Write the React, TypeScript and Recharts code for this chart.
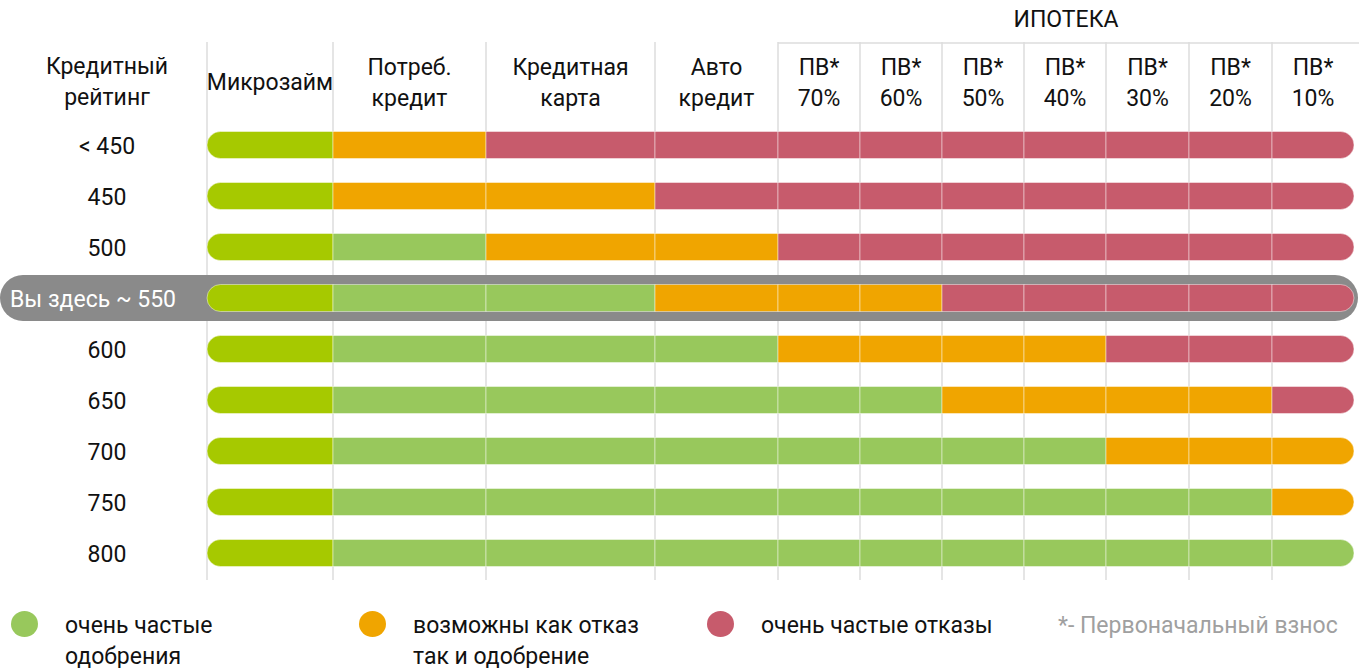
import React from 'react';
import { BarChart, Bar, XAxis, YAxis, CartesianGrid, Cell } from 'recharts';

const ratings = ['< 450', '450', '500', '550', '600', '650', '700', '750', '800'];
const highlightRating = '550';
const highlightLabel = 'Вы здесь ~ 550';

const columnLabels: string[][] = [
  ['Микрозайм'],
  ['Потреб.', 'кредит'],
  ['Кредитная', 'карта'],
  ['Авто', 'кредит'],
  ['ПВ*', '70%'],
  ['ПВ*', '60%'],
  ['ПВ*', '50%'],
  ['ПВ*', '40%'],
  ['ПВ*', '30%'],
  ['ПВ*', '20%'],
  ['ПВ*', '10%'],
];
// relative column widths
const columnWeights = [126, 153, 169, 123, 82, 82, 82, 82, 83, 83, 82];
const mortgageFrom = 4;

// g - очень частые одобрения, o - возможны как отказ так и одобрение, r - очень частые отказы
const statusRows = [
  'gorrrrrrrrr',
  'goorrrrrrrr',
  'ggoorrrrrrr',
  'gggooorrrrr',
  'ggggoooorrr',
  'ggggggoooor',
  'ggggggggooo',
  'ggggggggggo',
  'ggggggggggg',
];

const legendItems = [
  { status: 'g', lines: ['очень частые', 'одобрения'] },
  { status: 'o', lines: ['возможны как отказ', 'так и одобрение'] },
  { status: 'r', lines: ['очень частые отказы'] },
];
const footnote = '*- Первоначальный взнос';

const COLORS: Record<string, string> = {
  micro: '#a6c900',
  g: '#98c85c',
  o: '#f0a500',
  r: '#c75b6c',
};

const FONT = 'Roboto, "Noto Sans", sans-serif';
const FS = 23;
const W = 1359;
const total = columnWeights.reduce((a, b) => a + b, 0);
const starts = columnWeights.map((_, i) => columnWeights.slice(0, i).reduce((a, b) => a + b, 0));
const centers = columnWeights.map((w, i) => starts[i] + w / 2);
const keys = columnWeights.map((_, i) => `c${i}`);

const data = ratings.map((rating) => {
  const row: Record<string, string | number> = { rating };
  keys.forEach((k, i) => {
    row[k] = columnWeights[i];
  });
  return row;
});

const cellColor = (row: number, col: number) => {
  const s = statusRows[row][col];
  if (s === 'g' && col === 0) return COLORS.micro;
  return COLORS[s];
};

const ColumnTick = (props: any) => {
  const { x, index } = props;
  const lines = columnLabels[index] || [];
  const w = columnWeights[index];
  return (
    <g>
      {index >= mortgageFrom && (
        <line
          x1={x - w / 2}
          x2={index === columnWeights.length - 1 ? x + w / 2 + 5 : x + w / 2}
          y1={43}
          y2={43}
          stroke="#dddddd"
          strokeWidth={1.5}
        />
      )}
      {lines.length === 1 ? (
        <text x={x} y={82} textAnchor="middle" dominantBaseline="central" fontSize={FS} fill="#111" fontFamily={FONT}>
          {lines[0]}
        </text>
      ) : (
        lines.map((l, i) => (
          <text key={i} x={x} y={67 + i * 31} textAnchor="middle" dominantBaseline="central" fontSize={FS} fill="#111" fontFamily={FONT}>
            {l}
          </text>
        ))
      )}
    </g>
  );
};

const RatingTick = (props: any) => {
  const { y, payload } = props;
  if (payload.value === highlightRating) {
    return (
      <text x={10} y={y + 1} textAnchor="start" dominantBaseline="central" fontSize={FS} fill="#fff" fontFamily={FONT}>
        {highlightLabel}
      </text>
    );
  }
  return (
    <text x={107} y={y + 1} textAnchor="middle" dominantBaseline="central" fontSize={FS} fill="#111" fontFamily={FONT}>
      {payload.value}
    </text>
  );
};

const HighlightBackground = (props: any) => {
  const { y, height, index, payload } = props;
  const rating = payload?.rating ?? ratings[index];
  if (rating !== highlightRating) return <g />;
  const cy = y + height / 2;
  return <rect x={0} y={cy - 23} width={W - 1} height={46} rx={23} ry={23} fill="#8a8a8a" />;
};

export default function App() {
  const r = 13.5;
  return (
    <div style={{ position: 'absolute', left: 0, top: 0, width: W, height: 668, background: '#fff', fontFamily: FONT }}>
      <div style={{ position: 'absolute', left: 7, width: 200, top: 51, textAlign: 'center', fontSize: FS, lineHeight: '31px', color: '#111' }}>
        Кредитный
        <br />
        рейтинг
      </div>
      <div style={{ position: 'absolute', left: 966, width: 200, top: 7, textAlign: 'center', fontSize: FS, lineHeight: '26px', color: '#111' }}>
        ИПОТЕКА
      </div>
      <div style={{ position: 'absolute', left: 0, top: 0 }}>
        <BarChart
          width={W}
          height={585}
          data={data}
          layout="vertical"
          margin={{ top: 0, right: 5, bottom: 5, left: 0 }}
          barSize={27}
        >
          <CartesianGrid
            horizontal={false}
            stroke="#dddddd"
            strokeWidth={1.5}
            verticalCoordinatesGenerator={({ offset }: any) =>
              starts.map((s) => offset.left + (s / total) * offset.width)
            }
          />
          <XAxis
            type="number"
            orientation="top"
            domain={[0, total]}
            ticks={centers}
            interval={0}
            height={42}
            axisLine={false}
            tickLine={false}
            tick={<ColumnTick />}
          />
          <YAxis
            type="category"
            dataKey="rating"
            width={207}
            axisLine={false}
            tickLine={false}
            padding={{ top: 77.5, bottom: 1.5 }}
            tick={<RatingTick />}
          />
          {keys.map((k, col) => (
            <Bar
              key={k}
              dataKey={k}
              stackId="a"
              isAnimationActive={false}
              background={col === 0 ? (p: any) => <HighlightBackground {...p} /> : undefined}
              radius={col === 0 ? [r, 0, 0, r] : col === keys.length - 1 ? [0, r, r, 0] : 0}
            >
              {data.map((_, row) => (
                <Cell key={row} fill={cellColor(row, col)} stroke="rgba(255,255,255,0.45)" strokeWidth={1} />
              ))}
            </Bar>
          ))}
        </BarChart>
      </div>
      {legendItems.map((it, i) => (
        <div key={i} style={{ position: 'absolute', left: 11 + i * 348, top: 611 }}>
          <div style={{ position: 'absolute', left: 0, top: 0, width: 27, height: 26, borderRadius: '50%', background: COLORS[it.status] }} />
          <div style={{ position: 'absolute', left: 54, top: -1, fontSize: FS, lineHeight: '31px', color: '#111', whiteSpace: 'nowrap' }}>
            {it.lines.map((l, j) => (
              <div key={j}>{l}</div>
            ))}
          </div>
        </div>
      ))}
      <div style={{ position: 'absolute', left: 1058, top: 610, fontSize: FS, lineHeight: '31px', color: '#a0a0a0', whiteSpace: 'nowrap' }}>
        {footnote}
      </div>
    </div>
  );
}
